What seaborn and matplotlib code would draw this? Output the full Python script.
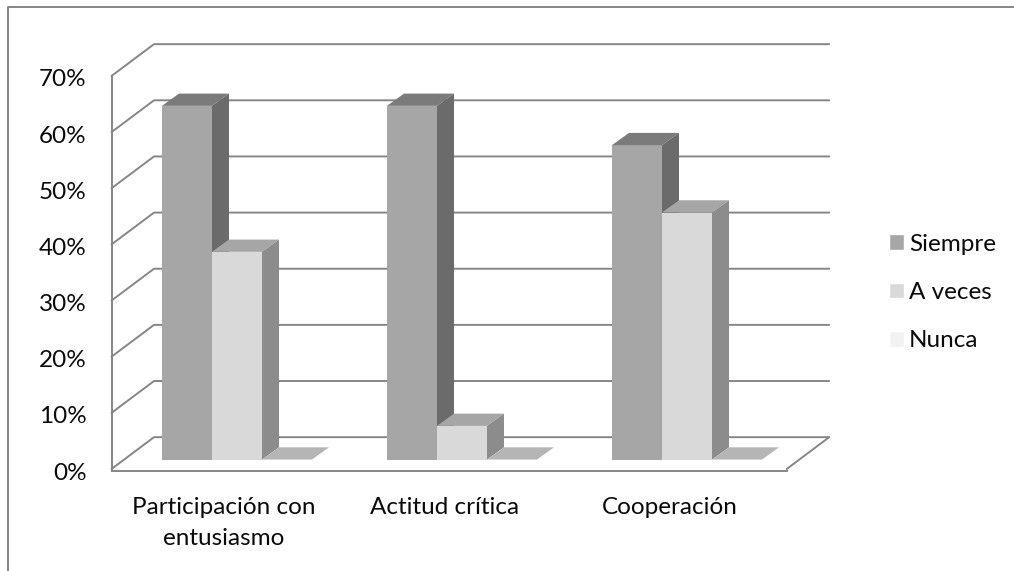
import matplotlib
matplotlib.use("Agg")
import matplotlib.pyplot as plt
from matplotlib.lines import Line2D
from matplotlib.patches import Polygon
import pandas as pd
import seaborn as sns

# data
categorias = ["Participación con\nentusiasmo", "Actitud crítica", "Cooperación"]
siempre = [63, 63, 56]
a_veces = [37, 6, 44]
nunca = [0, 0, 0]
series = ["Siempre", "A veces", "Nunca"]
ticks = [0, 10, 20, 30, 40, 50, 60, 70]

df = pd.DataFrame({
    "categoria": categorias * 3,
    "serie": [s for s in series for _ in categorias],
    "valor": siempre + a_veces + nunca,
})

W, H = 1014, 571
GRIS = "#868686"
TEXTO = "#0A0A0A"
frente = {"Siempre": "#A6A6A6", "A veces": "#D9D9D9", "Nunca": "#F2F2F2"}
lado = {"Siempre": "#6B6B6B", "A veces": "#8C8C8C", "Nunca": "#B5B5B5"}
arriba = {"Siempre": "#7B7B7B", "A veces": "#A6A6A6", "Nunca": "#B5B5B5"}

sns.set_theme(style="white")
plt.rcParams["font.family"] = ["Lato", "DejaVu Sans"]

fig = plt.figure(figsize=(W / 100, H / 100), dpi=100)
# axes box = front plane of the fake 3d box
izq, der, abajo, techo = 111.5, 786.7, 471, 76
ax = fig.add_axes([izq / W, 1 - abajo / H, (der - izq) / W, (abajo - techo) / H])
ax.patch.set_alpha(0)

sns.barplot(data=df, x="categoria", y="valor", hue="serie", palette=frente,
            width=150 / 225, gap=0, saturation=1, ax=ax, zorder=3)

px_x = 225  # px per category
px_y = 5.643  # px per 1%
base = 461.5  # y pixel where the bars stand
ax.set_xlim((izq - 237) / px_x, (der - 237) / px_x)
piso = (base - abajo) / px_y
ax.set_ylim(piso, (base - techo) / px_y)

# back wall and floor
fx, fy = 42.5 / px_x, 32 / px_y
x0, x1 = ax.get_xlim()
for v in ticks:
    y = piso + v
    ax.plot([x0, x0 + fx, x1 + fx], [y, y + fy, y + fy], color=GRIS, lw=1.4,
            clip_on=False, zorder=1)
ax.plot([x1, x1 + fx], [piso, piso + fy], color=GRIS, lw=1.4, clip_on=False, zorder=1)

# bar depth
bx, by = 17 / px_x, 12.3 / px_y
z = 3
for serie, cont in zip(series, ax.containers):
    z += 1
    for r in cont:
        a, b, h = r.get_x(), r.get_x() + r.get_width(), r.get_height()
        r.set_zorder(z)
        r.set_linewidth(0)
        ax.add_patch(Polygon([(a, h), (a + bx, h + by), (b + bx, h + by), (b, h)],
                             fc=arriba[serie], ec="none", clip_on=False, zorder=z))
        if h > 0:
            ax.add_patch(Polygon([(b, 0), (b + bx, by), (b + bx, h + by), (b, h)],
                                 fc=lado[serie], ec="none", clip_on=False, zorder=z))

for s in ["top", "right"]:
    ax.spines[s].set_visible(False)
for s in ["left", "bottom"]:
    ax.spines[s].set_color(GRIS)
    ax.spines[s].set_linewidth(1.4)

ax.set_xlabel("")
ax.set_ylabel("")
ax.set_yticks([piso + v - 2 / px_y for v in ticks])
ax.set_yticklabels([f"{v}%" for v in ticks])
ax.set_xticks([0 - 13 / px_x, 1 - 17 / px_x, 2 - 17 / px_x])
ax.set_xticklabels(categorias, linespacing=1.62)
ax.tick_params(axis="both", length=0, labelsize=17.5, labelcolor=TEXTO)
ax.tick_params(axis="y", pad=18)
ax.tick_params(axis="x", pad=18.5)
ax.grid(False)

h, l = ax.get_legend_handles_labels()
ax.legend(h, l, loc="center left", bbox_to_anchor=(889 / W, 1 - 292.5 / H),
          bbox_transform=fig.transFigure, frameon=False, fontsize=17.5,
          borderpad=0, borderaxespad=0,
          handlelength=0.62, handleheight=0.62, handletextpad=0.2, labelspacing=1.12,
          labelcolor=TEXTO)

# outer chart border, only top and left are in the crop
fig.add_artist(Line2D([8 / W, 8 / W, 1], [0, 1 - 7 / H, 1 - 7 / H], color=GRIS, lw=1.4))

fig.savefig("out.png", dpi=100)
